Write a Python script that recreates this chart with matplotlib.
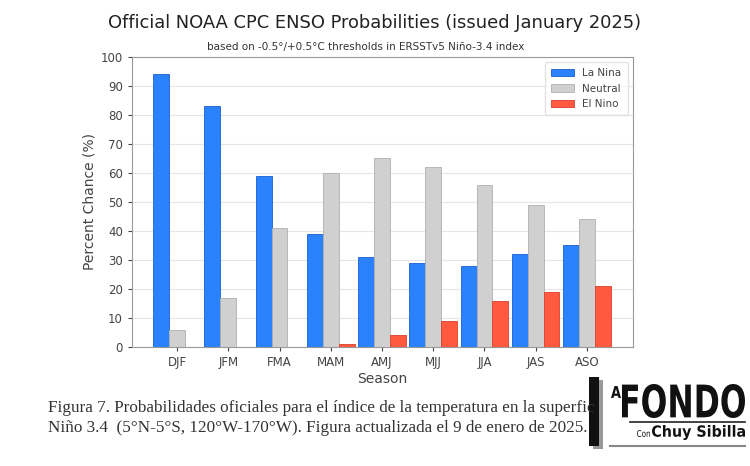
import numpy as np
import matplotlib
matplotlib.use("Agg")
import matplotlib.pyplot as plt
from matplotlib.patches import Rectangle, PathPatch
from matplotlib.textpath import TextPath
from matplotlib.font_manager import FontProperties
from matplotlib.transforms import Affine2D

# data
seasons = ["DJF", "JFM", "FMA", "MAM", "AMJ", "MJJ", "JJA", "JAS", "ASO"]
la_nina = [94, 83, 59, 39, 31, 29, 28, 32, 35]
neutral = [6, 17, 41, 60, 65, 62, 56, 49, 44]
el_nino = [0, 0, 0, 1, 4, 9, 16, 19, 21]

plt.rcParams['font.family'] = ['DejaVu Sans']

W, H = 750, 466
fig = plt.figure(figsize=(7.5, 4.66), dpi=100)
fig.patch.set_facecolor("white")
ax = fig.add_axes([0.176, 0.2554, 0.668, 0.6223])

x = np.arange(len(seasons))
w = 0.31
ax.bar(x - w, la_nina, w, color="#2a82ff", edgecolor="#1a5fcc", linewidth=0.6, label="La Nina", zorder=3)
ax.bar(x, neutral, w, color="#d0d0d0", edgecolor="#b0b0b0", linewidth=0.6, label="Neutral", zorder=3)
ax.bar(x + w, el_nino, w, color="#ff5a40", edgecolor="#d8402a", linewidth=0.6, label="El Nino", zorder=3)

ax.set_xlim(-0.88, 8.9)
ax.set_ylim(0, 100)
ax.set_yticks(range(0, 101, 10))
ax.set_xticks(x)
ax.set_xticklabels(seasons)
ax.tick_params(labelsize=8.5, colors="#444444", length=3)
ax.grid(axis="y", color="#e6e6e6", linewidth=0.8, zorder=0)
for s in ax.spines.values():
    s.set_color("#999999")

ax.set_ylabel("Percent Chance (%)", fontsize=10, color="#444444", labelpad=3)
ax.set_xlabel("Season", fontsize=10, color="#444444", labelpad=2)
ax.legend(loc="upper right", fontsize=7.5, frameon=True, edgecolor="#dddddd",
          labelcolor="#444444", handlelength=2.2, borderpad=0.6)

fig.text(0.5, 0.95, "Official NOAA CPC ENSO Probabilities (issued January 2025)",
         ha="center", va="center", fontsize=12.9, color="#222222")
fig.text(0.487, 0.899, "based on -0.5\u00b0/+0.5\u00b0C thresholds in ERSSTv5 Ni\u00f1o-3.4 index",
         ha="center", va="center", fontsize=7.5, color="#333333")

# caption below the chart
fig.text(0.064, 0.124, "Figura 7. Probabilidades oficiales para el \u00edndice de la temperatura en la superfic",
         family="Liberation Serif", fontsize=12.3, color="#333333", va="center")
fig.text(0.064, 0.082, "Ni\u00f1o 3.4  (5\u00b0N-5\u00b0S, 120\u00b0W-170\u00b0W). Figura actualizada el 9 de enero de 2025.",
         family="Liberation Serif", fontsize=12.3, color="#333333", va="center")


# logo: squeezed text paths placed in pixel boxes
def logo_text(s, x0, y0, wpx, hpx, bold=True, color="#111111"):
    fp = FontProperties(family="DejaVu Sans", weight="bold" if bold else "normal")
    tp = TextPath((0, 0), s, size=10, prop=fp)
    ext = tp.get_extents()
    tr = (Affine2D().translate(-ext.x0, -ext.y0)
          .scale(wpx / ext.width / W, hpx / ext.height / H)
          .translate(x0 / W, y0 / H) + fig.transFigure)
    fig.patches.append(PathPatch(tp, transform=tr, facecolor=color, edgecolor="none"))


fig.patches.append(Rectangle((593 / W, 17 / H), 10 / W, 69 / H, transform=fig.transFigure,
                             facecolor="#999999", edgecolor="none"))
fig.patches.append(Rectangle((589 / W, 20 / H), 10 / W, 69 / H, transform=fig.transFigure,
                             facecolor="#111111", edgecolor="none"))
logo_text("A", 611, 68, 10, 12)
logo_text("FONDO", 622, 48, 123, 34)
fig.lines.append(plt.Line2D([630 / W, 745 / W], [44 / H, 44 / H], transform=fig.transFigure,
                            color="#222222", linewidth=1.2))
logo_text("Con", 637, 29, 13, 7, bold=False)
logo_text("Chuy Sibilla", 652, 26, 93, 15)
fig.lines.append(plt.Line2D([610 / W, 745 / W], [20 / H, 20 / H], transform=fig.transFigure,
                            color="#888888", linewidth=1.5))

fig.savefig("out.png", dpi=100, facecolor="white")
